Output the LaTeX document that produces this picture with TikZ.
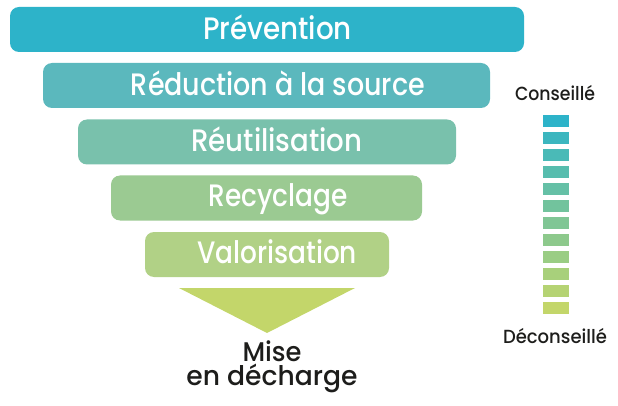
\documentclass[tikz,border=0pt]{standalone}
\usepackage{fontspec}
\usepackage{graphicx}
\setmainfont{Poppins Medium}
\definecolor{cA}{HTML}{2DB3C9}
\definecolor{cB}{HTML}{5BB8BD}
\definecolor{cC}{HTML}{79C1AC}
\definecolor{cD}{HTML}{9BCA92}
\definecolor{cE}{HTML}{B1D186}
\definecolor{cF}{HTML}{C3D66A}
\definecolor{ink}{HTML}{1D1D1B}
\newcommand\fitw[2]{\resizebox{#1}{\height}{#2}}
\tikzset{
  bar/.style={rounded corners=9pt, minimum height=45pt, inner sep=0pt, outer sep=0pt},
  bartext/.style={anchor=base, text=white, inner sep=0pt, font=\fontsize{31}{31}\selectfont},
  blacktext/.style={anchor=base, text=ink, inner sep=0pt, align=center, font=\fontsize{27}{23.5}\selectfont},
  legtext/.style={anchor=base, text=ink, inner sep=0pt, font=\fontsize{19}{19}\selectfont},
  sq/.style={minimum width=26pt, minimum height=12.5pt, inner sep=0pt, outer sep=0pt}
}
\begin{document}
\begin{tikzpicture}[x=1pt,y=-1pt]
\useasboundingbox (0,0) rectangle (618,406);
% bars
\node[bar, fill=cA, minimum width=514pt] (b1) at (267,29.5) {};
\node[bar, fill=cB, minimum width=447pt] (b2) at (266.5,85.5) {};
\node[bar, fill=cC, minimum width=378pt] (b3) at (267,142) {};
\node[bar, fill=cD, minimum width=311pt] (b4) at (266.5,198) {};
\node[bar, fill=cE, minimum width=244pt] (b5) at (267,254.5) {};
% texts
\node[bartext] (t1) at (277.5,40) {\fitw{149pt}{Prévention}};
\node[bartext] (t2) at (278,96) {\fitw{294pt}{Réduction à la source}};
\node[bartext] (t3) at (277,152) {\fitw{171pt}{Réutilisation}};
\node[bartext] (t4) at (278,207) {\fitw{139pt}{Recyclage}};
\node[bartext] (t5) at (277,263) {\fitw{160pt}{Valorisation}};
% triangle
\coordinate (tl) at (179,288);
\coordinate (tr) at (355,288);
\coordinate (tp) at (267,333);
\fill[cF] (tl) -- (tr) -- (tp) -- cycle;
\node[blacktext] (m) at (272,385) {\fitw{59pt}{Mise}\\\fitw{171pt}{en décharge}};
% legend
\node[legtext] (cons) at (555,101) {\fitw{80pt}{Conseillé}};
\node[legtext] (decons) at (555,343) {\fitw{104pt}{Déconseillé}};
\foreach \i in {0,...,11}{
  \pgfmathtruncatemacro\pc{100-\i*100/11}
  \node[sq, fill=cA!\pc!cF] (s\i) at (556,121+\i*17) {};
}
\end{tikzpicture}
\end{document}
